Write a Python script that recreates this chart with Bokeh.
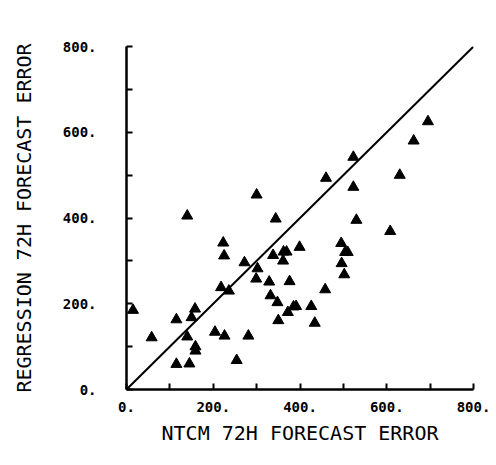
from bokeh.plotting import figure
from bokeh.models import FixedTicker, ColumnDataSource
from bokeh.embed import file_html
from bokeh.resources import INLINE

# NTCM 72h forecast error (x) vs regression 72h forecast error (y)
ntcm_err = [15, 58, 115, 115, 140, 140, 145, 150, 158, 159, 159, 204, 218, 223, 225,
            226, 236, 254, 272, 281, 300, 302, 299, 329, 332, 338, 344, 348, 350, 361,
            362, 369, 372, 376, 385, 391, 399, 426, 434, 458, 460, 495, 496, 502, 504,
            510, 523, 523, 530, 608, 630, 662, 695]
regr_err = [185, 121, 163, 59, 405, 123, 60, 168, 188, 100, 90, 134, 238, 342, 312,
            125, 230, 68, 296, 125, 454, 282, 258, 251, 219, 313, 398, 203, 161, 300,
            321, 321, 180, 252, 193, 194, 332, 194, 155, 233, 493, 341, 294, 268, 320,
            320, 542, 472, 395, 369, 500, 580, 625]
diag = [0, 800]
ticks = [0, 100, 200, 300, 400, 500, 600, 700, 800]
tick_labels = {0: "0.", 100: "", 200: "200.", 300: "", 400: "400.", 500: "",
               600: "600.", 700: "", 800: "800."}

p = figure(width=496, height=465, output_backend="svg", toolbar_location=None,
           x_range=(0, 800), y_range=(0, 800),
           min_border_left=126, min_border_right=23, min_border_top=46, min_border_bottom=76)
p.outline_line_color = None
p.grid.visible = False
p.background_fill_color = "white"
p.border_fill_color = "white"

font = "DejaVu Sans Mono"
for ax in (p.xaxis[0], p.yaxis[0]):
    ax.ticker = FixedTicker(ticks=ticks)
    ax.major_label_overrides = tick_labels
    ax.major_tick_in = 6
    ax.major_tick_out = 0
    ax.minor_tick_in = 0
    ax.minor_tick_out = 0
    ax.axis_line_width = 2.5
    ax.major_tick_line_width = 2
    ax.axis_line_color = "black"
    ax.major_tick_line_color = "black"
    ax.major_label_text_font = font
    ax.major_label_text_font_style = "bold"
    ax.major_label_text_font_size = "14px"
    ax.major_label_text_color = "black"
    ax.axis_label_text_font = font
    ax.axis_label_text_font_style = "normal"
    ax.axis_label_text_font_size = "20px"
    ax.axis_label_text_color = "black"

p.xaxis.axis_label = "NTCM 72H FORECAST ERROR"
p.yaxis.axis_label = "REGRESSION 72H FORECAST ERROR"
p.xaxis.major_label_standoff = 12
p.xaxis.axis_label_standoff = 6
p.yaxis.major_label_standoff = 30
p.yaxis.major_label_text_align = "left"
p.yaxis.axis_label_standoff = 24

p.line(x=diag, y=diag, line_color="black", line_width=2)
src = ColumnDataSource(dict(x=ntcm_err, y=regr_err))
p.scatter(x="x", y="y", source=src, marker="triangle", size=11,
          fill_color="black", line_color="black")

open("out.html", "w").write(file_html(p, INLINE))
